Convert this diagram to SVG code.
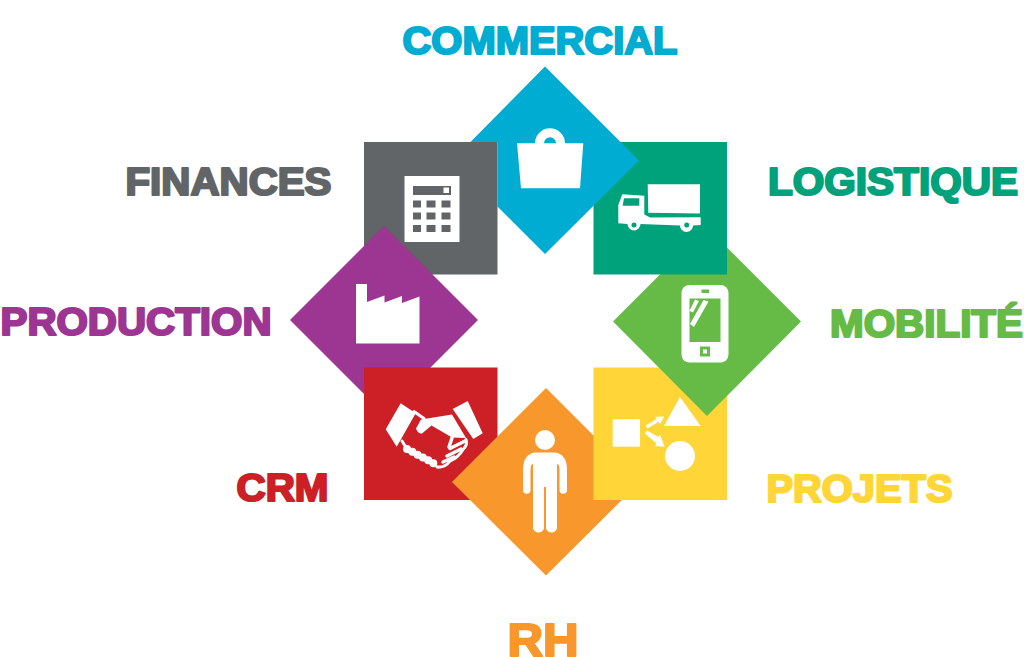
<svg xmlns="http://www.w3.org/2000/svg" width="1024" height="657" viewBox="0 0 1024 657">
<style>
.l{font-family:"Liberation Sans",Arial,sans-serif;font-weight:700;font-size:38px;stroke-width:2.2px;stroke-linejoin:round}
.w{fill:#fff}
.s{fill:none;stroke:#fff;stroke-linecap:round;stroke-linejoin:round}
</style>
<rect width="1024" height="657" fill="#fff"/>
<g id="finances">
<rect x="364" y="142" width="133.500" height="132.500" fill="#626567"/>
<rect x="404.500" y="176" width="55" height="66" class="w"/>
<rect x="413" y="186" width="38" height="9" fill="#626567"/><rect x="443.500" y="187.500" width="5.500" height="5.500" class="w"/>
<path fill="#626567" d="M413 200.500h8v7h-8zM426.500 200.500h9v7h-9zM441.500 200.500h9v7h-9zM413 212.500h8v7h-8zM426.500 212.500h9v7h-9zM441.500 212.500h9v7h-9zM413 225h8v7h-8zM426.500 225h9v7h-9zM441.500 225h9v7h-9z"/>
<text class="l" x="125.500" y="195" fill="#626567" stroke="#626567" textLength="206" lengthAdjust="spacingAndGlyphs">FINANCES</text>
</g>
<g id="production">
<path d="M384 226L478 320L384 414L290 320Z" fill="#9d3592"/>
<path class="w" d="M356 284h11v18l17.500-6.500v7l17.500-6.500v7l17.500-6.500v47H356z"/>
<text class="l" x="0.500" y="335" fill="#9d3592" stroke="#9d3592" textLength="271" lengthAdjust="spacingAndGlyphs">PRODUCTION</text>
</g>
<g id="crm">
<rect x="364" y="367.500" width="133.500" height="132.500" fill="#cd2026"/>
<path class="w" d="M400.700 403.300L415.700 413.300L396.700 446.700L385.700 429.300ZM452.700 409L467.700 401L482.700 433.300L473.300 439Z"/>
<path class="w" d="M421 419.500L452 414.500L466 438L452 437.500L431.500 425.500L422 433.500Q418 434 416 428.500Z"/>
<path class="s" stroke-width="3" d="M414 411.500L424 418.500M402 441L407 449M466 439.500Q468 445 463 449.500Q458 458 450 461Q445 468 437 467"/>
<path class="s" stroke-width="3.500" d="M465 441L450 448.500M461 449L447 456M454 457L443 462M452 438L449 447"/>
<path class="s" stroke-width="8" stroke-dasharray="0 6" d="M407 449L418 455L428 460L436 465"/>
<text class="l" x="236.500" y="501" fill="#cd2026" stroke="#cd2026" textLength="92" lengthAdjust="spacingAndGlyphs">CRM</text>
</g>
<g id="rh">
<path d="M546 388L640 482L546 575.500L452 482Z" fill="#f7972c"/>
<circle cx="545" cy="440" r="10" class="w"/>
<path class="w" d="M535 452.500H555Q567 454 567 470V490a3.700 3.700 0 0 1-7.500 0V470Q559.500 464 557 464V527a5 5 0 0 1-5 5.500H551a5 5 0 0 1-5-5.500V487H544V527a5 5 0 0 1-5 5.500H538a5 5 0 0 1-5-5.500V464Q530.500 464 530.500 470V490a3.700 3.700 0 0 1-7.500 0V470Q523 454 535 452.500Z"/>
<text x="507.500" y="656" fill="#f7972c" stroke="#f7972c" class="l" style="font-size:47px" textLength="71" lengthAdjust="spacingAndGlyphs">RH</text>
</g>
<g id="projets">
<rect x="593.500" y="367.500" width="133.500" height="132.500" fill="#ffd538"/>
<rect x="612.700" y="419.300" width="27.300" height="27.400" class="w"/>
<path class="w" d="M680 397L700.700 426H664Z"/>
<circle cx="680" cy="456" r="15" class="w"/>
<path class="w" d="M645.700 425.500L656.500 419L655 416.800L664.300 416.500L660 424L658.500 421.800L647.500 428.500ZM645 433.500L647 430.500L658.300 437L660 434.500L664.500 446.700L655 446L656.500 443.500Z"/>
<text class="l" x="766.500" y="502" fill="#ffd538" stroke="#ffd538" textLength="186" lengthAdjust="spacingAndGlyphs">PROJETS</text>
</g>
<g id="mobilite">
<path d="M707 227.500L801 321.500L707 416L613 321.500Z" fill="#65bb46"/>
<rect x="681.500" y="285" width="47" height="77.500" rx="8" class="w"/>
<rect x="689.500" y="298.500" width="31" height="43.500" fill="#65bb46"/>
<rect x="701.500" y="289.500" width="7.500" height="3.500" fill="#65bb46"/>
<path fill="#65bb46" d="M700 346.500h10v10h-10z"/><rect x="703" y="349.500" width="4" height="4" class="w"/>
<path class="w" d="M695 299.500l4 1.500-6 11.500-3.500-1.500zM703.500 300l5 1.500-14.500 25.500-4-3z"/>
<text class="l" x="830" y="337" fill="#65bb46" stroke="#65bb46" textLength="193" lengthAdjust="spacingAndGlyphs">MOBILITÉ</text>
</g>
<g id="logistique">
<rect x="593.500" y="142" width="133.500" height="132.500" fill="#00a27c"/>
<path class="w" d="M647.700 184.300H700V213.500L648.300 212.700Z"/>
<path class="w" d="M622.300 194.300L644.300 195.700V214.500L650 217.500L700.700 217.300V225L693 225.500a6.500 6.500 0 0 1-13 0L640.500 224a6.500 6.500 0 0 1-13 0L618.300 223.300V205Z"/>
<path fill="#00a27c" d="M624 198.300H639.300V205.700H622.700Z"/>
<circle cx="634" cy="225" r="2.500" fill="#00a27c"/><circle cx="686.700" cy="225" r="2.500" fill="#00a27c"/>
<text class="l" x="768" y="195" fill="#00a27c" stroke="#00a27c" textLength="250" lengthAdjust="spacingAndGlyphs">LOGISTIQUE</text>
</g>
<g id="commercial">
<path d="M545 66.500L639 160.500L545 254L497.500 206.500V142H470.500Z" fill="#00acd1"/>
<path class="w" d="M517 143.300H535a15 15 0 0 1 30 0H583.300L580 188.300H521Z"/>
<path fill="#00acd1" d="M544 143.300a6 6 0 0 1 12 0z"/>
<text class="l" x="402.500" y="54" fill="#00acd1" stroke="#00acd1" textLength="275" lengthAdjust="spacingAndGlyphs">COMMERCIAL</text>
</g>
</svg>
